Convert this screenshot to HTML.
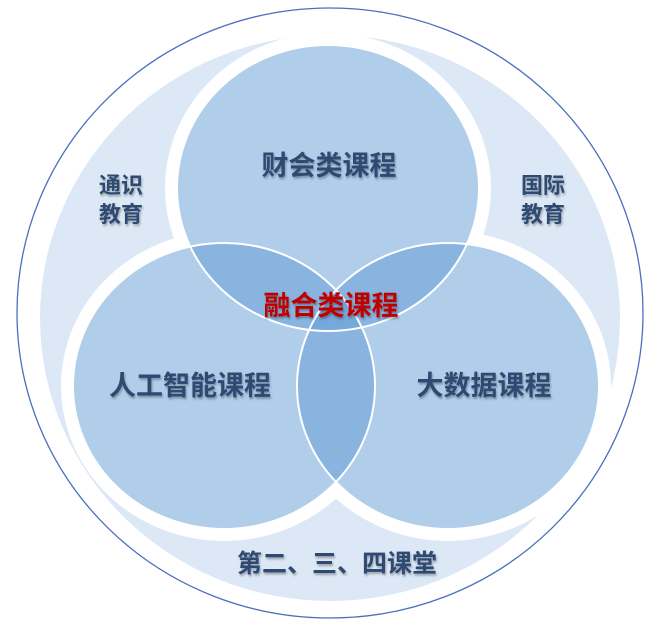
<!DOCTYPE html>
<html><head><meta charset="utf-8"><style>
html,body{margin:0;padding:0;background:#fff;}
svg{display:block}
text{font-family:"Liberation Sans","Noto Sans CJK SC",sans-serif;font-weight:bold;text-anchor:middle;}
</style></head><body>
<svg width="660" height="629" viewBox="0 0 660 629">
<defs>
<filter id="sh" x="-10%" y="-10%" width="120%" height="130%"><feDropShadow dx="1" dy="2" stdDeviation="1" flood-color="#000" flood-opacity="0.3"/></filter>
</defs>
<ellipse cx="330" cy="313" rx="313" ry="305" fill="#fff" stroke="#4a6fbf" stroke-width="1.3"/>
<ellipse cx="330" cy="318" rx="290" ry="283" fill="#dce8f5"/>
<ellipse cx="328" cy="188" rx="163" ry="155" fill="#fff"/>
<ellipse cx="224" cy="386" rx="163" ry="155" fill="#fff"/>
<ellipse cx="448" cy="386" rx="163" ry="155" fill="#fff"/>
<g fill="rgb(97,155,213)" fill-opacity="0.5">
<ellipse cx="328" cy="188" rx="151" ry="143"/>
<ellipse cx="224" cy="386" rx="151" ry="143"/>
<ellipse cx="448" cy="386" rx="151" ry="143"/>
</g>
<g fill="none" stroke="#fff" stroke-width="2">
<ellipse cx="328" cy="188" rx="151" ry="143"/>
<ellipse cx="224" cy="386" rx="151" ry="143"/>
<ellipse cx="448" cy="386" rx="151" ry="143"/>
</g>
<g fill="#2e4a72" filter="url(#sh)">
<text x="329" y="175" font-size="27">财会类课程</text>
<text x="190" y="395" font-size="27">人工智能课程</text>
<text x="484" y="395" font-size="27">大数据课程</text>
<text x="121" y="193" font-size="22">通识</text>
<text x="121" y="222" font-size="22">教育</text>
<text x="543" y="193" font-size="22">国际</text>
<text x="543" y="222" font-size="22">教育</text>
<text x="337" y="572" font-size="25">第二、三、四课堂</text>
</g>
<text x="331" y="315" font-size="27" fill="#c00000" filter="url(#sh)">融合类课程</text>
</svg>
</body></html>
